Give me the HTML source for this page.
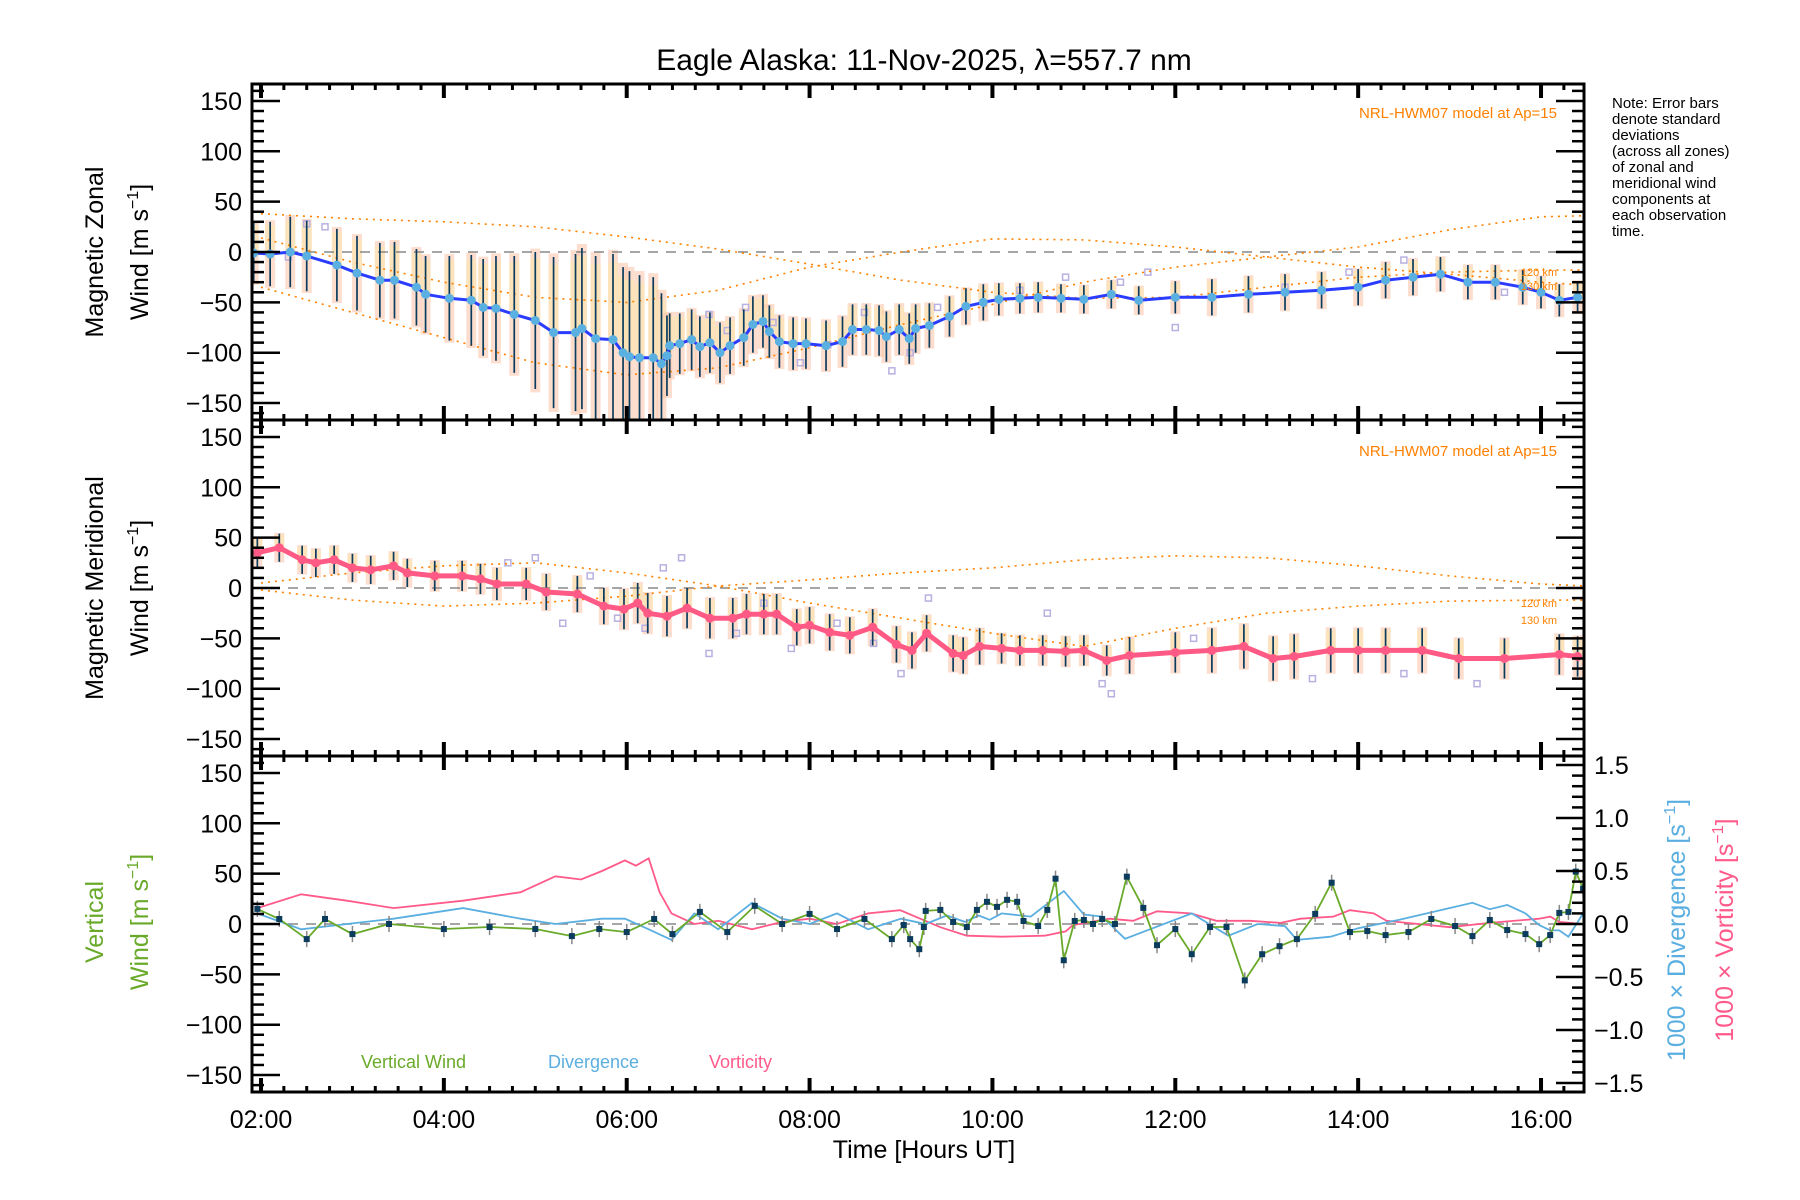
<!DOCTYPE html>
<html><head><meta charset="utf-8"><title>Eagle Alaska winds</title>
<style>
html,body{margin:0;padding:0;background:#fff;}
svg{display:block;font-family:"Liberation Sans",sans-serif;}
</style></head>
<body>
<svg id="chart" width="1800" height="1200" viewBox="0 0 1800 1200" xmlns="http://www.w3.org/2000/svg">
<defs>
<clipPath id="c0"><rect x="252" y="84" width="1332" height="336"/></clipPath>
<clipPath id="c1"><rect x="252" y="420" width="1332" height="336"/></clipPath>
<clipPath id="c2"><rect x="252" y="756" width="1332" height="336"/></clipPath>
</defs>
<text x="924" y="70" font-size="30" text-anchor="middle">Eagle Alaska: 11-Nov-2025, λ=557.7 nm</text>
<g font-size="15" fill="#000">
<text x="1612" y="108">Note: Error bars</text>
<text x="1612" y="124">denote standard</text>
<text x="1612" y="140">deviations</text>
<text x="1612" y="156">(across all zones)</text>
<text x="1612" y="172">of zonal and</text>
<text x="1612" y="188">meridional wind</text>
<text x="1612" y="204">components at</text>
<text x="1612" y="220">each observation</text>
<text x="1612" y="236">time.</text>
</g>
<g id="layer"></g>
</svg>
<script>
// ---------- data ----------
const zTimes=[1.92,2.1,2.32,2.5,2.83,3.05,3.3,3.46,3.7,3.8,4.06,4.3,4.43,4.57,4.77,5.0,5.2,5.44,5.51,5.66,5.85,5.96,6.03,6.14,6.29,6.38,6.44,6.47,6.58,6.71,6.8,6.91,7.02,7.13,7.28,7.38,7.49,7.56,7.67,7.82,7.96,8.18,8.36,8.47,8.62,8.76,8.84,8.98,9.09,9.16,9.31,9.53,9.71,9.9,10.07,10.3,10.5,10.75,11.0,11.3,11.6,12.0,12.4,12.8,13.2,13.6,14.0,14.3,14.6,14.9,15.2,15.5,15.8,16.0,16.2,16.4];
const zMean=[-1,-2,0,-4,-13,-21,-28,-28,-35,-42,-46,-48,-55,-56,-62,-68,-80,-80,-76,-86,-87,-100,-104,-105,-105,-111,-103,-93,-91,-87,-94,-90,-100,-93,-85,-72,-69,-79,-89,-91,-91,-93,-89,-77,-77,-78,-84,-77,-86,-76,-73,-64,-54,-50,-47,-46,-45,-46,-47,-42,-48,-45,-45,-42,-40,-38,-35,-28,-25,-22,-30,-30,-35,-40,-48,-45];
const zStd=[30,32,35,35,36,37,37,38,38,38,42,45,48,52,58,68,75,78,80,82,85,85,85,82,80,70,40,32,30,30,30,30,30,28,28,28,26,26,26,26,25,25,25,25,25,25,25,25,25,24,22,20,18,18,16,15,15,14,14,14,14,16,18,18,18,18,18,18,18,17,17,17,17,16,16,16];
const mTimes=[1.96,2.2,2.45,2.6,2.8,3.0,3.2,3.45,3.6,3.9,4.2,4.4,4.58,4.9,5.12,5.46,5.75,5.97,6.12,6.23,6.44,6.66,6.91,7.16,7.31,7.5,7.64,7.86,8.0,8.22,8.44,8.69,8.95,9.12,9.28,9.57,9.68,9.86,10.1,10.3,10.55,10.8,11.0,11.25,11.5,12.0,12.4,12.75,13.07,13.3,13.7,14.0,14.3,14.7,15.1,15.6,16.2,16.4];
const mMean=[35,40,28,25,28,20,18,22,15,12,12,9,4,4,-4,-6,-18,-21,-15,-25,-28,-20,-30,-30,-26,-26,-26,-39,-37,-44,-47,-39,-56,-62,-45,-65,-67,-58,-60,-62,-62,-63,-62,-72,-67,-64,-62,-58,-70,-68,-62,-62,-62,-62,-70,-70,-66,-68];
const mStd=[15,14,14,14,14,14,14,14,14,15,15,15,16,16,18,18,18,20,20,20,20,20,20,20,20,20,20,18,18,18,18,18,18,18,18,18,18,18,15,15,15,15,15,15,18,20,22,22,22,22,22,22,22,22,20,20,20,20];
const vTimes=[1.96,2.2,2.5,2.7,3.0,3.4,4.0,4.5,5.0,5.4,5.7,6.0,6.3,6.5,6.8,7.1,7.4,7.7,8.0,8.3,8.6,8.9,9.03,9.1,9.2,9.25,9.27,9.43,9.57,9.72,9.83,9.94,10.05,10.16,10.27,10.34,10.5,10.6,10.69,10.78,10.9,11.0,11.1,11.2,11.34,11.47,11.65,11.8,12.0,12.18,12.38,12.56,12.76,12.95,13.14,13.33,13.53,13.71,13.91,14.1,14.3,14.55,14.8,15.06,15.25,15.44,15.63,15.83,15.98,16.1,16.2,16.3,16.38,16.46];
const vWind=[15,5,-15,5,-10,0,-5,-3,-5,-12,-5,-8,5,-10,12,-8,18,0,10,-5,5,-15,-1,-15,-25,-3,13,14,2,-3,14,22,17,24,22,3,-2,14,45,-36,3,4,0,5,0,47,16,-21,-5,-30,-3,-3,-56,-30,-22,-15,10,41,-8,-7,-11,-8,5,-2,-12,4,-6,-10,-20,-11,11,12,52,35];
const dTimes=[1.96,2.44,2.94,3.45,4.21,4.84,5.22,5.73,5.98,6.24,6.49,6.74,7.0,7.37,7.7,8.0,8.3,8.64,9.0,9.27,9.5,9.7,9.85,9.97,10.1,10.42,10.78,11.0,11.2,11.45,12.18,12.58,12.9,13.2,13.33,13.7,14.0,14.45,15.25,15.44,15.63,15.83,15.98,16.1,16.2,16.3,16.46];
const divg=[0.1,-0.05,0.0,0.05,0.15,0.05,0.0,0.05,0.05,-0.05,-0.15,0.1,-0.05,0.2,0.05,0.0,0.1,-0.05,0.05,0.0,0.08,0.02,0.08,0.04,0.1,0.07,0.31,0.09,0.07,-0.14,0.1,-0.11,0.0,-0.02,-0.15,-0.12,-0.04,0.04,0.2,0.14,0.18,0.1,-0.01,-0.06,-0.06,-0.12,0.1];
const wTimes=[1.96,2.44,2.94,3.45,4.21,4.84,5.22,5.5,5.73,5.98,6.1,6.24,6.36,6.49,6.74,7.0,7.37,7.7,8.0,8.3,8.64,8.99,9.43,9.72,10.1,10.57,10.8,10.88,11.28,11.54,11.8,12.17,12.45,12.82,13.15,13.37,13.73,13.91,14.17,14.31,15.0,15.44,15.98,16.1,16.2,16.46];
const vort=[0.15,0.28,0.22,0.15,0.22,0.3,0.45,0.42,0.5,0.6,0.55,0.62,0.3,0.1,0.0,0.03,-0.05,0.02,0.05,0.0,0.1,0.13,-0.03,-0.11,-0.12,-0.11,-0.07,-0.01,0.05,0.03,0.12,0.1,0.03,0.03,0.01,0.05,0.07,0.13,0.1,0.03,-0.03,0.01,0.05,0.07,0.02,0.0];
const zModT=[2,3,4,5,6,7,8,9,10,11,12,13,14,15,16,16.5];
const zModA=[38,33,30,25,15,3,-12,-28,-40,-46,-45,-35,-25,-20,-18,-18];
const zModB=[14,-10,-30,-45,-50,-38,-15,0,13,12,5,-5,-15,-22,-30,-33];
const zModC=[-35,-60,-85,-110,-122,-115,-95,-72,-52,-30,-15,-5,5,22,35,36];
const mModA=[5,15,22,25,15,2,-15,-30,-45,-58,-40,-25,-18,-13,-12,-12];
const mModB=[-2,-12,-18,-15,-8,2,8,15,20,28,32,30,22,12,4,2];
const zScatT=[2.3,2.5,2.7,6.9,7.1,7.3,7.6,7.9,8.2,8.6,8.9,9.1,9.4,10.3,10.8,11.4,11.7,12.0,13.2,13.9,14.5,15.6];
const zScatV=[-5,28,25,-62,-78,-55,-70,-110,-92,-60,-118,-100,-55,-38,-25,-30,-20,-75,-35,-20,-8,-40];
const mScatT=[4.7,5.0,5.3,5.6,5.9,6.2,6.4,6.6,6.9,7.2,7.5,7.8,8.3,8.7,9.0,9.3,10.6,11.2,11.3,12.2,13.5,14.5,15.3];
const mScatV=[25,30,-35,12,-30,-40,20,30,-65,-45,-15,-60,-35,-55,-85,-10,-25,-95,-105,-50,-90,-85,-95];
const xTickLabels=["02:00","04:00","06:00","08:00","10:00","12:00","14:00","16:00"];
const xTickHours=[2,4,6,8,10,12,14,16];
const yTicks=[150,100,50,0,-50,-100,-150];
const rTicks=[1.5,1.0,0.5,0.0,-0.5,-1.0,-1.5];

// ---------- scales ----------
const L=252,R=1584,PH=336,TOP=84;
const X=h=>261+(h-2)*91.43;
const Y=(p,v)=>TOP+PH*p+168-v*1.007;
const YR=v=>924-v*106;
const NS='http://www.w3.org/2000/svg';
const layer=document.getElementById('layer');
function mk(tag,attrs,parent){const e=document.createElementNS(NS,tag);for(const k in attrs)e.setAttribute(k,attrs[k]);(parent||layer).appendChild(e);return e;}
function pathFrom(ts,vs,fy){return ts.map((t,i)=>(i?'L':'M')+X(t).toFixed(1)+','+fy(vs[i]).toFixed(1)).join('');}
const fmt=v=>(v<0?'\u2212'+Math.abs(v):''+v);

// ---------- panel contents ----------
function windPanel(p,ts,mean,sd,sT,sV,modT,mods,lineCol,under){
  const g=mk('g',{'clip-path':'url(#c'+p+')'});
  
  
  ts.forEach((t,i)=>{
    const r=mk('rect',{x:X(t)-5,y:Y(p,mean[i]+sd[i]*1.05),width:10,height:sd[i]*1.05*2*1.007,fill:'#fcc8ae',opacity:0.6},g);
    
    
    const r2=mk('rect',{x:X(t)-5,y:Y(p,mean[i]+sd[i]*0.9),width:10,height:sd[i]*0.9*1.007,fill:'#fbe6b4',opacity:0.7},g);
    
    
  });
  sT.forEach((t,i)=>{
    const s=mk('rect',{x:X(t)-3,y:Y(p,sV[i])-3,width:6,height:6,fill:'none',stroke:'#b8b0e0','stroke-width':1.5},g);
    
    
  });
  mk('line',{x1:L,x2:R,y1:Y(p,0),y2:Y(p,0),stroke:'#888','stroke-width':1.5,'stroke-dasharray':'10,8'},g);
  mods.forEach(m=>{
    const l=mk('path',{d:pathFrom(modT,m,v=>Y(p,v)),fill:'none',stroke:'#ff8000','stroke-width':1.6,'stroke-dasharray':'2,5'},g);
    
    
  });
  ts.forEach((t,i)=>{
    const b=mk('line',{x1:X(t),x2:X(t),y1:Y(p,mean[i]+sd[i]),y2:Y(p,mean[i]-sd[i]),stroke:'#0b3c5d','stroke-width':1.7},g);
    
    
  });
  const lc = under || lineCol;
  const ln=mk('path',{d:pathFrom(ts,mean,v=>Y(p,v)),fill:'none',stroke:lc,'stroke-width':under?3:5,'stroke-linejoin':'round'},g);
  
  
  ts.forEach((t,i)=>{
    const c=mk('circle',{cx:X(t),cy:Y(p,mean[i]),r:4.5,fill:lineCol},g);
    
    
  });
}
windPanel(0,zTimes,zMean,zStd,zScatT,zScatV,zModT,[zModA,zModB,zModC],'#5ab0e0','#2a3cff');
windPanel(1,mTimes,mMean,mStd,mScatT,mScatV,zModT,[mModA,mModB],'#ff5a85',null);

// panel 3
const g3=mk('g',{'clip-path':'url(#c2)'});


mk('line',{x1:L,x2:R,y1:Y(2,0),y2:Y(2,0),stroke:'#888','stroke-width':1.5,'stroke-dasharray':'10,8'},g3);
const vortLine=mk('path',{d:pathFrom(wTimes,vort,YR),fill:'none',stroke:'#ff5a8a','stroke-width':1.8},g3);


const divLine=mk('path',{d:pathFrom(dTimes,divg,YR),fill:'none',stroke:'#5aaee0','stroke-width':1.8},g3);


vTimes.forEach((t,i)=>{
  const e=mk('line',{x1:X(t),x2:X(t),y1:Y(2,vWind[i]+8),y2:Y(2,vWind[i]-8),stroke:'#888','stroke-width':1.5},g3);
  
  
});
const vLine=mk('path',{d:pathFrom(vTimes,vWind,v=>Y(2,v)),fill:'none',stroke:'#6aaa2a','stroke-width':1.8},g3);


vTimes.forEach((t,i)=>{
  const s=mk('rect',{x:X(t)-3,y:Y(2,vWind[i])-3,width:6,height:6,fill:'#0b3c5d'},g3);
  
  
});

// ---------- axes ----------
for(let p=0;p<3;p++){
  const top=TOP+PH*p, bot=top+PH;
  const ax=mk('g',{stroke:'#000'});
  
  
  mk('rect',{x:L,y:top,width:R-L,height:PH,fill:'none','stroke-width':3},ax);
  for(let v=-160;v<=160;v+=10){
    const y=Y(p,v), major=v%50===0;
    mk('line',{x1:L,x2:L+(major?28:12),y1:y,y2:y,'stroke-width':2.5},ax);
    if(p<2) mk('line',{x1:R,x2:R-(major?28:12),y1:y,y2:y,'stroke-width':2.5},ax);
  }
  if(p===2){
    for(let k=-15;k<=15;k++){const y=YR(k/10),major=k%5===0;mk('line',{x1:R,x2:R-(major?28:12),y1:y,y2:y,'stroke-width':2.5},ax);}
  }
  for(let h=2;h<=16.4;h+=0.25){
    const x=X(h), major=Math.abs(h/2-Math.round(h/2))<1e-6;
    const len=major?14:6, w=major?4:3;
    mk('line',{x1:x,x2:x,y1:bot,y2:bot-len,'stroke-width':w},ax);
    mk('line',{x1:x,x2:x,y1:top,y2:top+len,'stroke-width':w},ax);
  }
  yTicks.forEach(v=>{
    const t=mk('text',{x:242,y:Y(p,v)+9,'font-size':25,'text-anchor':'end',stroke:'none',fill:'#000'});
    t.textContent=fmt(v);
    
    
  });
}
rTicks.forEach(v=>{
  const t=mk('text',{x:1594,y:YR(v)+9,'font-size':25,fill:'#000'});
  t.textContent=(v<0?'\u2212':'')+Math.abs(v).toFixed(1);
  
  
});
xTickHours.forEach((h,i)=>{
  const t=mk('text',{x:X(h),y:1128,'font-size':25,'text-anchor':'middle',fill:'#000'});
  t.textContent=xTickLabels[i];
  
  
});
</script>
<script>
const s=document.getElementById('chart');
const add=(html)=>s.insertAdjacentHTML('beforeend',html);
add('<text x="924" y="1158" font-size="25" text-anchor="middle">Time [Hours UT]</text>');
add('<text transform="translate(103,252) rotate(-90)" font-size="25" text-anchor="middle">Magnetic Zonal</text>');
add('<text transform="translate(148,252) rotate(-90)" font-size="25" text-anchor="middle">Wind [m s<tspan dy="-10" font-size="16">−1</tspan><tspan dy="10">]</tspan></text>');
add('<text transform="translate(103,588) rotate(-90)" font-size="25" text-anchor="middle">Magnetic Meridional</text>');
add('<text transform="translate(148,588) rotate(-90)" font-size="25" text-anchor="middle">Wind [m s<tspan dy="-10" font-size="16">−1</tspan><tspan dy="10">]</tspan></text>');
add('<text transform="translate(103,922) rotate(-90)" font-size="25" fill="#6aaa2a" text-anchor="middle">Vertical</text>');
add('<text transform="translate(148,922) rotate(-90)" font-size="25" fill="#6aaa2a" text-anchor="middle">Wind [m s<tspan dy="-10" font-size="16">−1</tspan><tspan dy="10">]</tspan></text>');
add('<text transform="translate(1685,930) rotate(-90)" font-size="25" fill="#5aaee0" text-anchor="middle">1000 × Divergence [s<tspan dy="-10" font-size="16">−1</tspan><tspan dy="10">]</tspan></text>');
add('<text transform="translate(1733,930) rotate(-90)" font-size="25" fill="#ff5a8a" text-anchor="middle">1000 × Vorticity [s<tspan dy="-10" font-size="16">−1</tspan><tspan dy="10">]</tspan></text>');
add('<text x="1557" y="118" font-size="15" fill="#ff8000" text-anchor="end">NRL-HWM07 model at Ap=15</text>');
add('<text x="1557" y="456" font-size="15" fill="#ff8000" text-anchor="end">NRL-HWM07 model at Ap=15</text>');
add('<text x="1557" y="276" font-size="11" fill="#ff8000" text-anchor="end">120 km</text>');
add('<text x="1557" y="290" font-size="11" fill="#ff8000" text-anchor="end">130 km</text>');
add('<text x="1557" y="607" font-size="11" fill="#ff8000" text-anchor="end">120 km</text>');
add('<text x="1557" y="624" font-size="11" fill="#ff8000" text-anchor="end">130 km</text>');
add('<text x="361" y="1068" font-size="18" fill="#6aaa2a">Vertical Wind</text>');
add('<text x="548" y="1068" font-size="18" fill="#5aaee0">Divergence</text>');
add('<text x="709" y="1068" font-size="18" fill="#ff5a8a">Vorticity</text>');
</script>
</body></html>
